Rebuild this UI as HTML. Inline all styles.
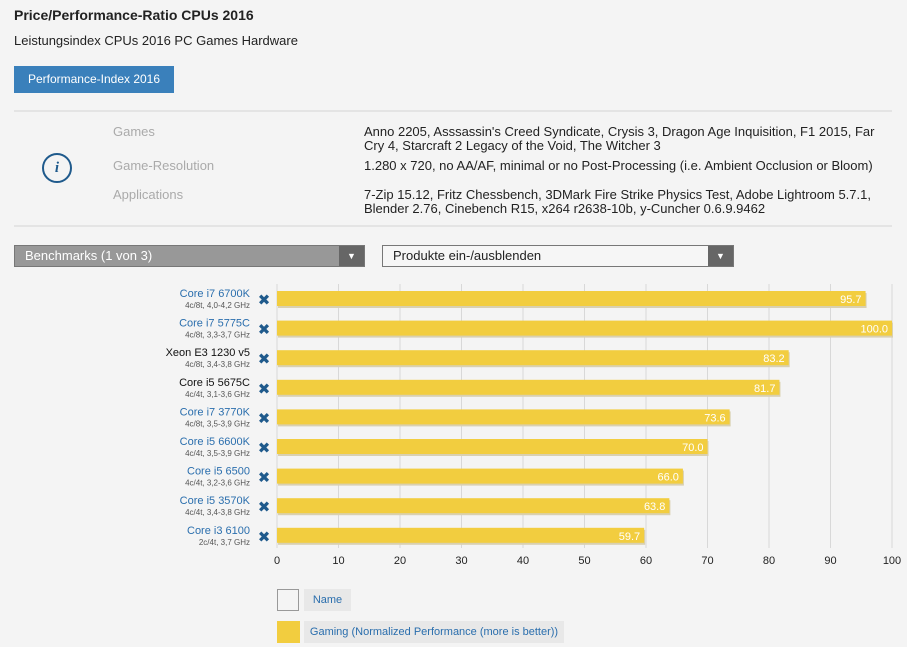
<!DOCTYPE html>
<html><head><meta charset="utf-8"><style>
body{margin:0;width:907px;height:647px;background:#f4f4f4;font-family:"Liberation Sans",sans-serif;position:relative;overflow:hidden;color:#222}
.a{position:absolute;white-space:nowrap}
.lab{color:#aaa;font-size:13px}
.val{font-size:13px;color:#222;line-height:14px}
</style></head><body>
<div class="a" style="left:14px;top:7px;font-size:14px;font-weight:bold">Price/Performance-Ratio CPUs 2016</div>
<div class="a" style="left:14px;top:33px;font-size:13px">Leistungsindex CPUs 2016 PC Games Hardware</div>
<div class="a" style="left:14px;top:66px;width:160px;height:27px;background:#3a80bb;color:#fff;font-size:12px;line-height:27px;text-align:center">Performance-Index 2016</div>
<div class="a" style="left:14px;top:110px;width:878px;height:2px;background:#e4e4e4"></div>
<div class="a" style="left:42px;top:153px;width:26px;height:26px;border:2px solid #1f5a8c;border-radius:50%;color:#1f5a8c;font-family:'Liberation Serif',serif;font-style:italic;font-weight:bold;font-size:15px;text-align:center;line-height:26px">i</div>
<div class="a lab" style="left:113px;top:124px">Games</div>
<div class="a lab" style="left:113px;top:158px">Game-Resolution</div>
<div class="a lab" style="left:113px;top:187px">Applications</div>
<div class="a val" style="left:364px;top:125px">Anno 2205, Asssassin's Creed Syndicate, Crysis 3, Dragon Age Inquisition, F1 2015, Far<br>Cry 4, Starcraft 2 Legacy of the Void, The Witcher 3</div>
<div class="a val" style="left:364px;top:159px">1.280 x 720, no AA/AF, minimal or no Post-Processing (i.e. Ambient Occlusion or Bloom)</div>
<div class="a val" style="left:364px;top:188px">7-Zip 15.12, Fritz Chessbench, 3DMark Fire Strike Physics Test, Adobe Lightroom 5.7.1,<br>Blender 2.76, Cinebench R15, x264 r2638-10b, y-Cuncher 0.6.9.9462</div>
<div class="a" style="left:14px;top:225px;width:878px;height:2px;background:#e4e4e4"></div>
<div class="a" style="left:14px;top:245px;width:349px;height:20px;background:#989898;border:1px solid #777;color:#fff;font-size:13px;line-height:20px"><span style="padding-left:10px">Benchmarks (1 von 3)</span><span style="position:absolute;right:0;top:0;width:25px;height:20px;background:#666;text-align:center;font-size:9px">▼</span></div>
<div class="a" style="left:382px;top:245px;width:350px;height:20px;background:#f6f6f6;border:1px solid #777;color:#222;font-size:13px;line-height:20px"><span style="padding-left:10px">Produkte ein-/ausblenden</span><span style="position:absolute;right:0;top:0;width:25px;height:20px;background:#666;color:#fff;text-align:center;font-size:9px">▼</span></div>
<svg class="a" style="left:0;top:0" width="907" height="647" id="chart"></svg>
<div class="a" style="left:277px;top:589px;width:20px;height:20px;border:1px solid #999;background:#f4f4f4"></div>
<div class="a" style="left:304px;top:589px;width:47px;height:22px;background:#e8e8e8;color:#2a6ead;font-size:11px;line-height:22px;text-align:center">Name</div>
<div class="a" style="left:277px;top:621px;width:23px;height:22px;background:#f2cd3f"></div>
<div class="a" style="left:304px;top:621px;width:260px;height:22px;background:#e8e8e8;color:#2a6ead;font-size:11px;line-height:22px;text-align:center">Gaming (Normalized Performance (more is better))</div>
<script>
const names=["Core i7 6700K","Core i7 5775C","Xeon E3 1230 v5","Core i5 5675C","Core i7 3770K","Core i5 6600K","Core i5 6500","Core i5 3570K","Core i3 6100"];
const specs=["4c/8t, 4,0-4,2 GHz","4c/8t, 3,3-3,7 GHz","4c/8t, 3,4-3,8 GHz","4c/4t, 3,1-3,6 GHz","4c/8t, 3,5-3,9 GHz","4c/4t, 3,5-3,9 GHz","4c/4t, 3,2-3,6 GHz","4c/4t, 3,4-3,8 GHz","2c/4t, 3,7 GHz"];
const values=[95.7,100.0,83.2,81.7,73.6,70.0,66.0,63.8,59.7];
const linked=[true,true,false,false,true,true,true,true,true];
const ticks=[0,10,20,30,40,50,60,70,80,90,100];
const svg=document.getElementById('chart');
const NS="http://www.w3.org/2000/svg";
const x=v=>277+v*6.15;
const y=i=>291+i*29.6;
function mk(t,a,txt){const e=document.createElementNS(NS,t);for(const k in a)e.setAttribute(k,a[k]);if(txt!==undefined)e.textContent=txt;svg.appendChild(e);return e;}
ticks.forEach(t=>{
 const g=mk('line',{x1:x(t),x2:x(t),y1:284,y2:548,stroke:'#d8d8d8','stroke-width':1});
 
 
 const l=mk('text',{x:x(t),y:564,'text-anchor':'middle','font-size':11,fill:'#222','font-family':'Liberation Sans, sans-serif'},t);
 
 
});
values.forEach((v,i)=>{
 const s=mk('rect',{x:x(0)+1,y:y(i)+2,width:x(v)-x(0),height:15,fill:'#d9d0b0'});
 
 
 const b=mk('rect',{x:x(0),y:y(i),width:x(v)-x(0),height:15,fill:'#f2cd3f'});
 
 
 const t=mk('text',{x:x(v)-4,y:y(i)+12,'text-anchor':'end','font-size':11,fill:'#fff','font-family':'Liberation Sans, sans-serif'},v.toFixed(1));
 
 
 const n=mk('text',{x:250,y:y(i)+6,'text-anchor':'end','font-size':11,fill:linked[i]?'#2a6ead':'#111','font-family':'Liberation Sans, sans-serif'},names[i]);
 
 
 const sp=mk('text',{x:250,y:y(i)+17,'text-anchor':'end','font-size':8,fill:'#555','font-family':'Liberation Sans, sans-serif'},specs[i]);
 
 
 const r=mk('text',{x:264,y:y(i)+14,'text-anchor':'middle','font-size':15,'font-weight':'bold',fill:'#1f5a8c','font-family':'DejaVu Sans, sans-serif'},'✖');
 
 
});
</script>
</body></html>
